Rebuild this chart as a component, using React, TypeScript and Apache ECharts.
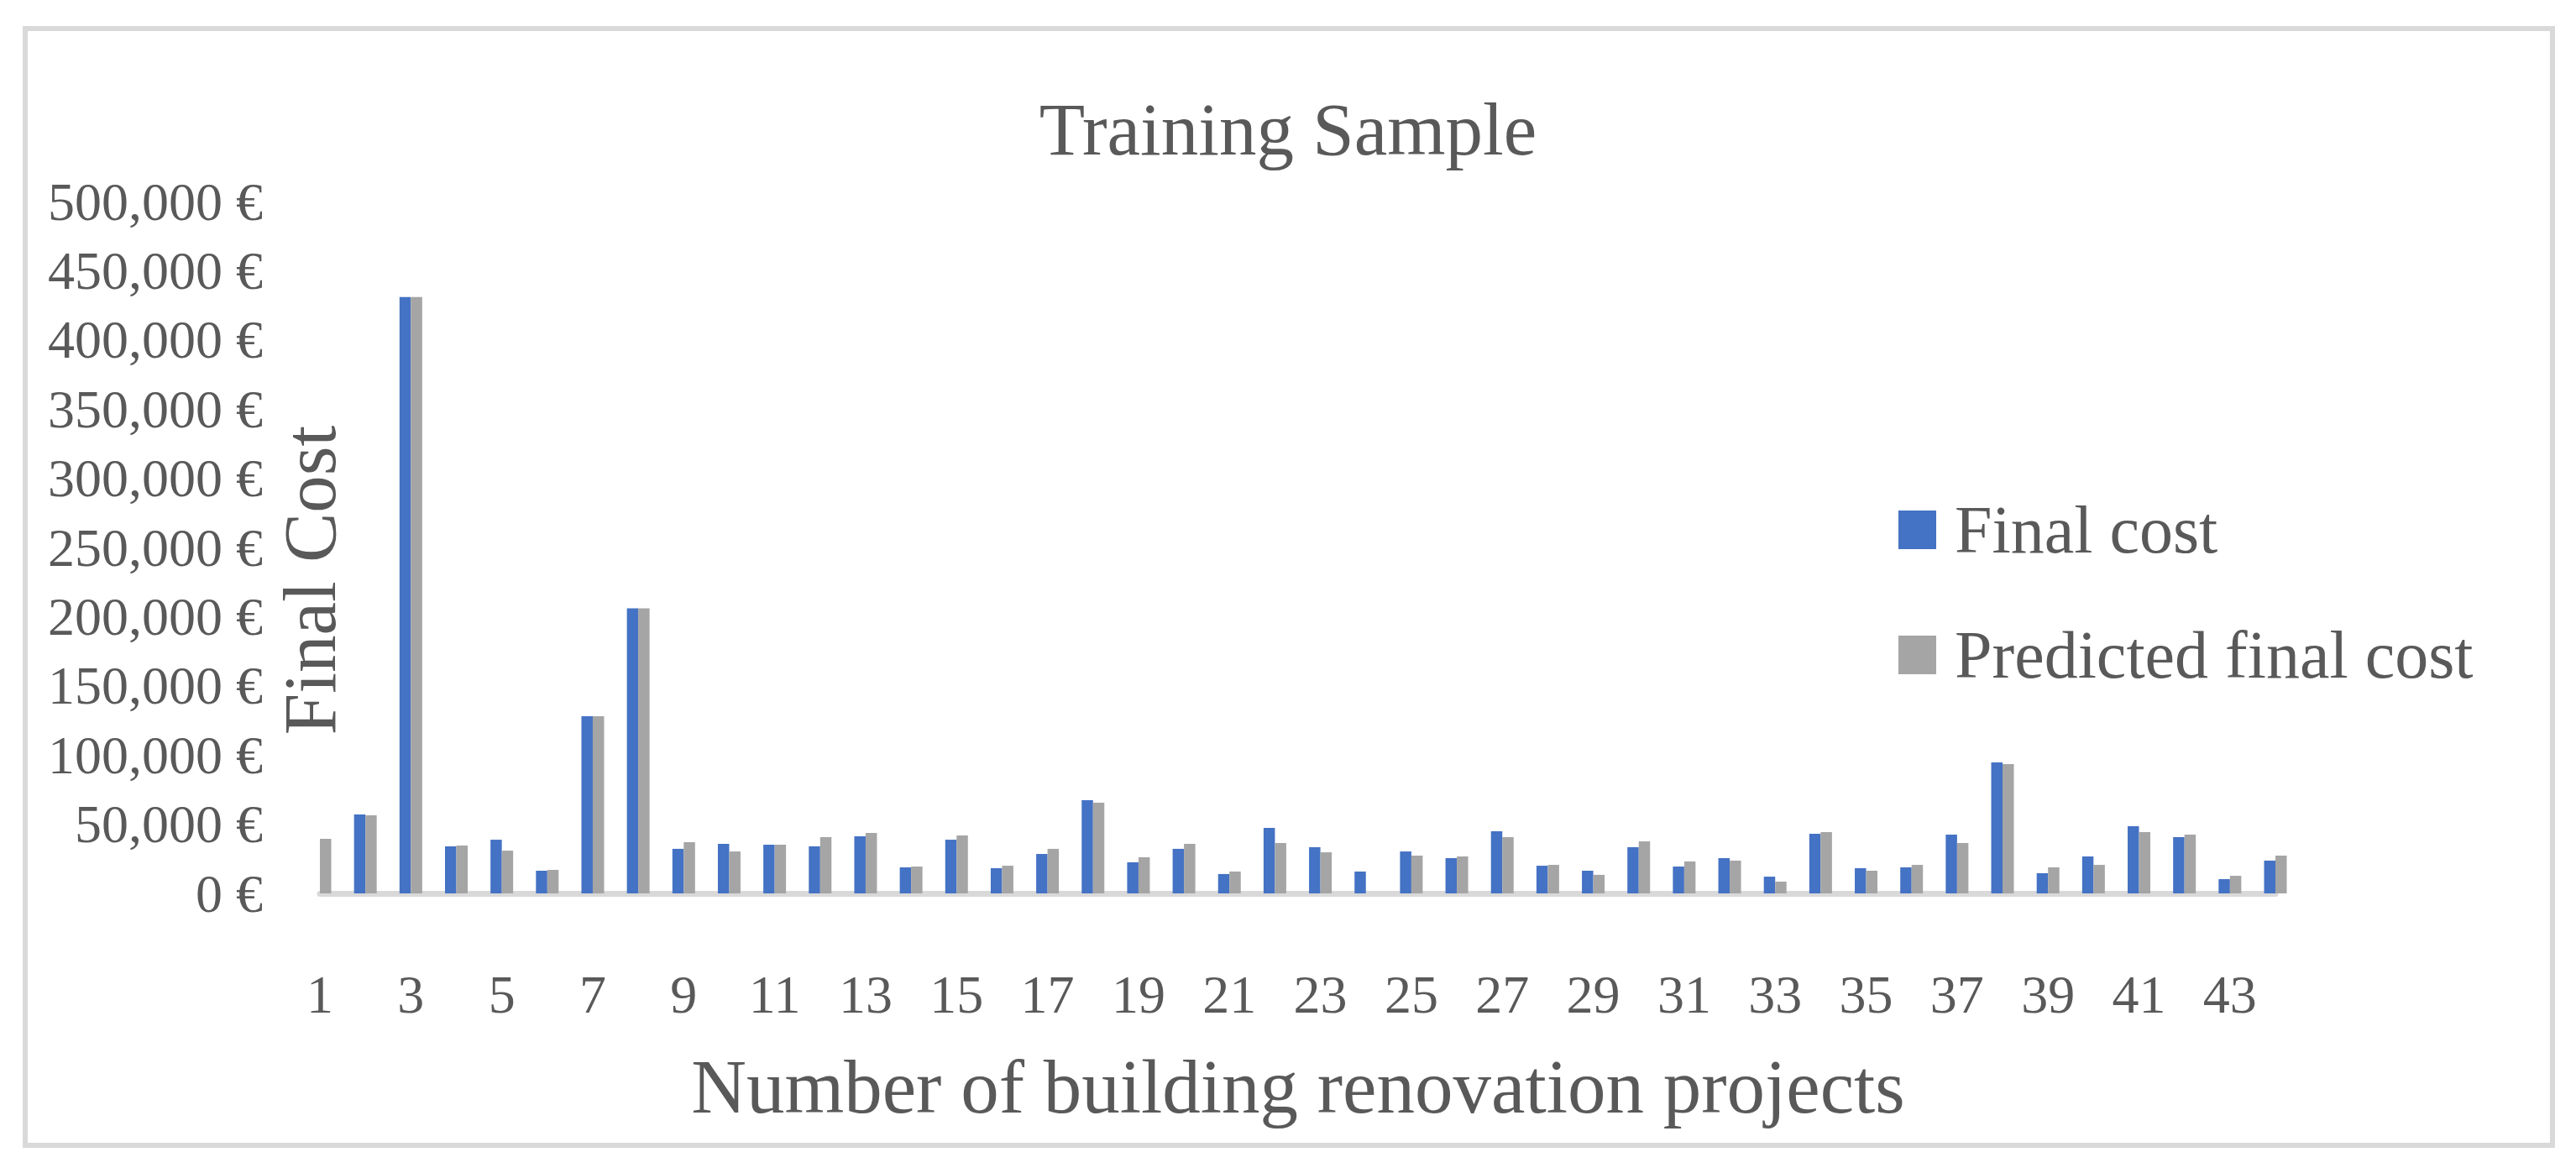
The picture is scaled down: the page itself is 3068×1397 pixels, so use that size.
import React, { useEffect, useRef } from "react";
import * as echarts from "echarts";

const categories = [
  "1", "2", "3", "4", "5", "6", "7", "8", "9", "10", "11",
  "12", "13", "14", "15", "16", "17", "18", "19", "20", "21", "22",
  "23", "24", "25", "26", "27", "28", "29", "30", "31", "32", "33",
  "34", "35", "36", "37", "38", "39", "40", "41", "42", "43", "44",
];

// Project 1's "Final cost" bar is cut off at the plot edge in the reference (not visible)
const finalCost = [
  null, 57000, 431000, 34000, 38800, 16400, 128000, 206000, 32200, 35800, 35200,
  34000, 41300, 18800, 38800, 18200, 28500, 67400, 22500, 32200, 14000, 47300,
  33400, 15800, 30300, 25500, 44900, 20000, 16400, 33400, 19400, 25500, 12100,
  43100, 18200, 18800, 42500, 94700, 14600, 26700, 48500, 40700, 10300, 23700,
];

const predictedFinalCost = [
  39400, 56400, 431000, 34600, 30900, 17000, 128000, 206000, 37000, 30300, 35200,
  40700, 43700, 19400, 41900, 20000, 32200, 65500, 26100, 35800, 15800, 36400,
  29700, 0, 27300, 26700, 40700, 20600, 13400, 37600, 23100, 23700, 8500,
  44300, 16400, 20600, 36400, 93400, 18800, 20600, 44300, 42500, 12700, 27300,
];

const seriesNames = ["Final cost", "Predicted final cost"];
const titleText = "Training Sample";
const yAxisTitle = "Final Cost";
const xAxisTitle = "Number of building renovation projects";
const yMin = 0;
const yMax = 500000;
const yStep = 50000;

const FONT = '"Liberation Serif", "Times New Roman", serif';
const TEXT = "#595959";

export default function App() {
  const ref = useRef<HTMLDivElement>(null);

  useEffect(() => {
    if (!ref.current) return;
    const chart = echarts.init(ref.current, undefined, { renderer: "svg" });
    chart.setOption({
      animation: false,
      backgroundColor: "#ffffff",
      textStyle: { fontFamily: FONT, color: TEXT },
      title: {
        text: titleText,
        left: "center",
        top: 104,
        textStyle: { fontFamily: FONT, fontSize: 89, fontWeight: "normal", color: TEXT },
      },
      legend: {
        orient: "vertical",
        left: 2256,
        top: 586,
        itemWidth: 45,
        itemHeight: 46,
        itemGap: 69,
        icon: "rect",
        data: seriesNames,
        textStyle: {
          fontFamily: FONT,
          fontSize: 80,
          color: TEXT,
          padding: [0, 0, 0, 17],
        },
      },
      grid: { left: 381, right: 358, top: 240, bottom: 333, containLabel: false },
      xAxis: {
        type: "category",
        data: categories,
        boundaryGap: false,
        axisLine: { show: true, lineStyle: { color: "#D9D9D9", width: 7 } },
        axisTick: { show: false },
        axisLabel: {
          interval: 1,
          margin: 88,
          fontFamily: FONT,
          fontSize: 64,
          color: TEXT,
        },
        splitLine: { show: false },
      },
      yAxis: {
        type: "value",
        min: yMin,
        max: yMax,
        interval: yStep,
        axisLine: { show: false },
        axisTick: { show: false },
        splitLine: { show: false },
        axisLabel: {
          margin: 68,
          fontFamily: FONT,
          fontSize: 64,
          color: TEXT,
          formatter: (v: number) => v.toLocaleString("en-US") + " €",
        },
      },
      series: [
        {
          name: seriesNames[0],
          type: "bar",
          data: finalCost,
          barWidth: 13.5,
          barGap: "0%",
          itemStyle: { color: "#4472C4" },
        },
        {
          name: seriesNames[1],
          type: "bar",
          data: predictedFinalCost,
          barWidth: 13.5,
          barGap: "0%",
          itemStyle: { color: "#A5A5A5" },
        },
      ],
      graphic: [
        {
          type: "rect",
          shape: { x: 30, y: 34, width: 3010, height: 1330 },
          style: { fill: "none", stroke: "#D9D9D9", lineWidth: 6 },
          silent: true,
          z: -1,
        },
        {
          type: "text",
          x: 369,
          y: 691,
          rotation: Math.PI / 2,
          style: {
            text: yAxisTitle,
            fontFamily: FONT,
            fontSize: 89,
            fill: TEXT,
            align: "center",
            verticalAlign: "middle",
          },
        },
        {
          type: "text",
          x: 1546,
          y: 1294,
          style: {
            text: xAxisTitle,
            fontFamily: FONT,
            fontSize: 91,
            fill: TEXT,
            align: "center",
            verticalAlign: "middle",
          },
        },
      ],
    });
    return () => chart.dispose();
  }, []);

  return (
    <div
      ref={ref}
      style={{ position: "absolute", left: 0, top: 0, width: 3068, height: 1397 }}
    />
  );
}
